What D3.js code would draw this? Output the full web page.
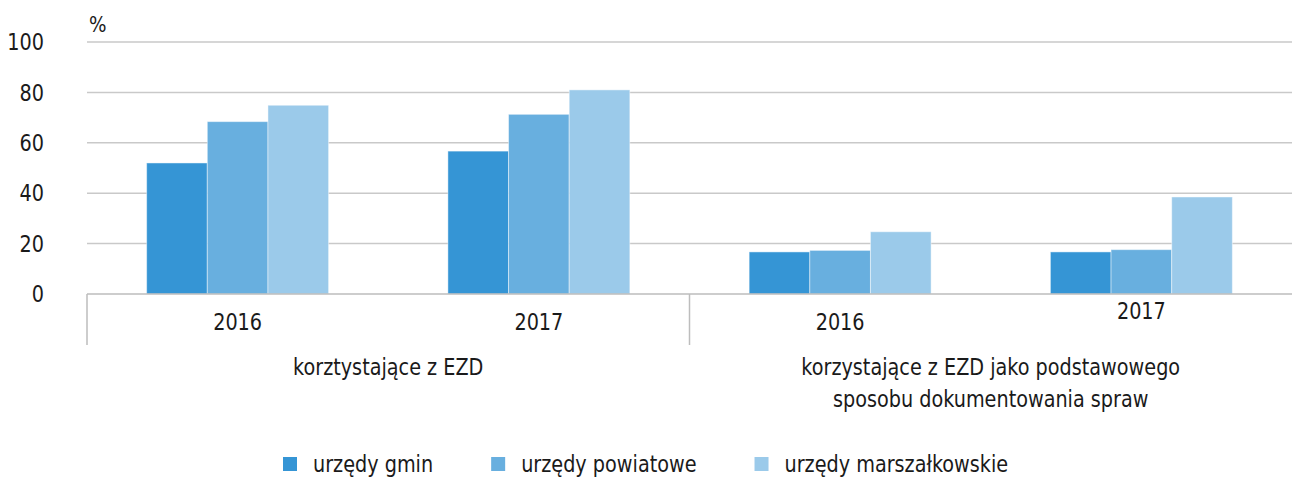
<!DOCTYPE html>
<html>
<head>
<meta charset="utf-8">
<script src="https://cdn.jsdelivr.net/npm/d3@7"></script>
<style>
  body { margin: 0; background: #fff; }
  svg text { font-family: "Liberation Sans Narrow", "DejaVu Sans Condensed", sans-serif; fill: #1a1a1a; }
</style>
</head>
<body>
<div id="content"></div>
<script>
var width = 1292;
var height = 478;

// data
var groups = ['korztystające z EZD', 'korzystające z EZD jako podstawowego|sposobu dokumentowania spraw'];
var years = ['2016', '2017'];
var seriesNames = ['urzędy gmin', 'urzędy powiatowe', 'urzędy marszałkowskie'];
var gmin = [52, 56.7, 16.7, 16.7];
var powiatowe = [68.4, 71.3, 17.3, 17.6];
var marszalkowskie = [74.9, 81, 24.7, 38.5];
var yTicks = [0, 20, 40, 60, 80, 100];
var colors = ['#3595d5', '#68afdf', '#9bcaea'];

var series = [gmin, powiatowe, marszalkowskie];
var cats = [];
groups.forEach(function(g, gi){
    years.forEach(function(y, yi){
        cats.push({ id: gi + '-' + yi, group: gi, year: y });
    });
});

var plotLeft = 87, plotRight = 1292, plotTop = 42, plotBottom = 294;
var squeeze = 0.93; // the original face is narrower than DejaVu Condensed

// narrow a text horizontally around its own x
function narrow(sel){
    sel.attr('transform', function(){
        var tx = +d3.select(this).attr('x');
        return 'translate(' + tx + ',0) scale(' + squeeze + ',1) translate(' + (-tx) + ',0)';
    });
}

var svg = d3.select('div#content').append('svg')
    .attr('width', width)
    .attr('height', height);

var x = d3.scaleBand()
    .domain(cats.map(function(d){ return d.id; }))
    .range([plotLeft, plotRight]);

var xInner = d3.scaleBand()
    .domain(seriesNames)
    .range([0, x.bandwidth() * 0.604])
    .paddingInner(0);

var y = d3.scaleLinear().domain([0, 100]).range([plotBottom, plotTop]);

// gridlines
svg.append('g')
    .selectAll('line')
    .data(yTicks.filter(function(d){ return d > 0; }))
    .enter().append('line')
        .attr('x1', plotLeft).attr('x2', plotRight)
        .attr('y1', function(d){ return y(d); })
        .attr('y2', function(d){ return y(d); })
        .attr('stroke', '#c9c9c9')
        .attr('stroke-width', 1.5);

// y tick labels
svg.append('g')
    .selectAll('text')
    .data(yTicks)
    .enter().append('text')
        .attr('x', 44)
        .attr('y', function(d){ return y(d); })
        .attr('dy', '0.36em')
        .attr('text-anchor', 'end')
        .attr('font-size', 23)
        .text(function(d){ return d; })
        .call(narrow);

svg.append('text')
    .attr('x', 89).attr('y', 32)
    .attr('font-size', 22)
    .text('%')
    .call(narrow);

// bars
var offset = (x.bandwidth() - xInner.range()[1]) / 2;
series.forEach(function(vals, si){
    svg.append('g')
        .selectAll('rect')
        .data(cats)
        .enter().append('rect')
            .attr('x', function(d){ return x(d.id) + offset + xInner(seriesNames[si]); })
            .attr('width', xInner.bandwidth())
            .attr('y', function(d, i){ return y(vals[i]); })
            .attr('height', function(d, i){ return y(0) - y(vals[i]); })
            .attr('fill', colors[si])
            .attr('stroke', 'rgba(255,255,255,0.45)')
            .attr('stroke-width', 1);
});

// baseline and separators
svg.append('line')
    .attr('x1', plotLeft).attr('x2', plotRight)
    .attr('y1', y(0)).attr('y2', y(0))
    .attr('stroke', '#bdbdbd').attr('stroke-width', 1.5);

var sepX = [plotLeft, x(cats[2].id)];
svg.append('g')
    .selectAll('line')
    .data(sepX)
    .enter().append('line')
        .attr('x1', function(d){ return d; })
        .attr('x2', function(d){ return d; })
        .attr('y1', y(0)).attr('y2', 345)
        .attr('stroke', '#bdbdbd').attr('stroke-width', 1.5);

// year labels (last one sits a little higher in the original)
svg.append('g')
    .selectAll('text')
    .data(cats)
    .enter().append('text')
        .attr('x', function(d){ return x(d.id) + x.bandwidth() / 2; })
        .attr('y', function(d, i){ return i === 3 ? 319 : 330; })
        .attr('text-anchor', 'middle')
        .attr('font-size', 23)
        .text(function(d){ return d.year; })
        .call(narrow);

// group labels
groups.forEach(function(g, gi){
    var x0 = x(cats[gi * 2].id);
    var x1 = x(cats[gi * 2 + 1].id) + x.bandwidth();
    var lines = g.split('|');
    var t = svg.append('text')
        .attr('x', (x0 + x1) / 2)
        .attr('y', 375)
        .attr('text-anchor', 'middle')
        .attr('font-size', 23);
    lines.forEach(function(l, li){
        t.append('tspan')
            .attr('x', (x0 + x1) / 2)
            .attr('dy', li === 0 ? 0 : 32)
            .text(l);
    });
    t.call(narrow);
});

// legend
var lg = svg.append('g');
var lx = 283;
seriesNames.forEach(function(name, i){
    lg.append('rect')
        .attr('x', lx).attr('y', 457)
        .attr('width', 14).attr('height', 14)
        .attr('fill', colors[i]);
    var t = lg.append('text')
        .attr('x', lx + 30).attr('y', 472)
        .attr('font-size', 23)
        .text(name)
        .call(narrow);
    lx += 30 + t.node().getComputedTextLength() * squeeze + 58;
});
</script>
</body>
</html>
